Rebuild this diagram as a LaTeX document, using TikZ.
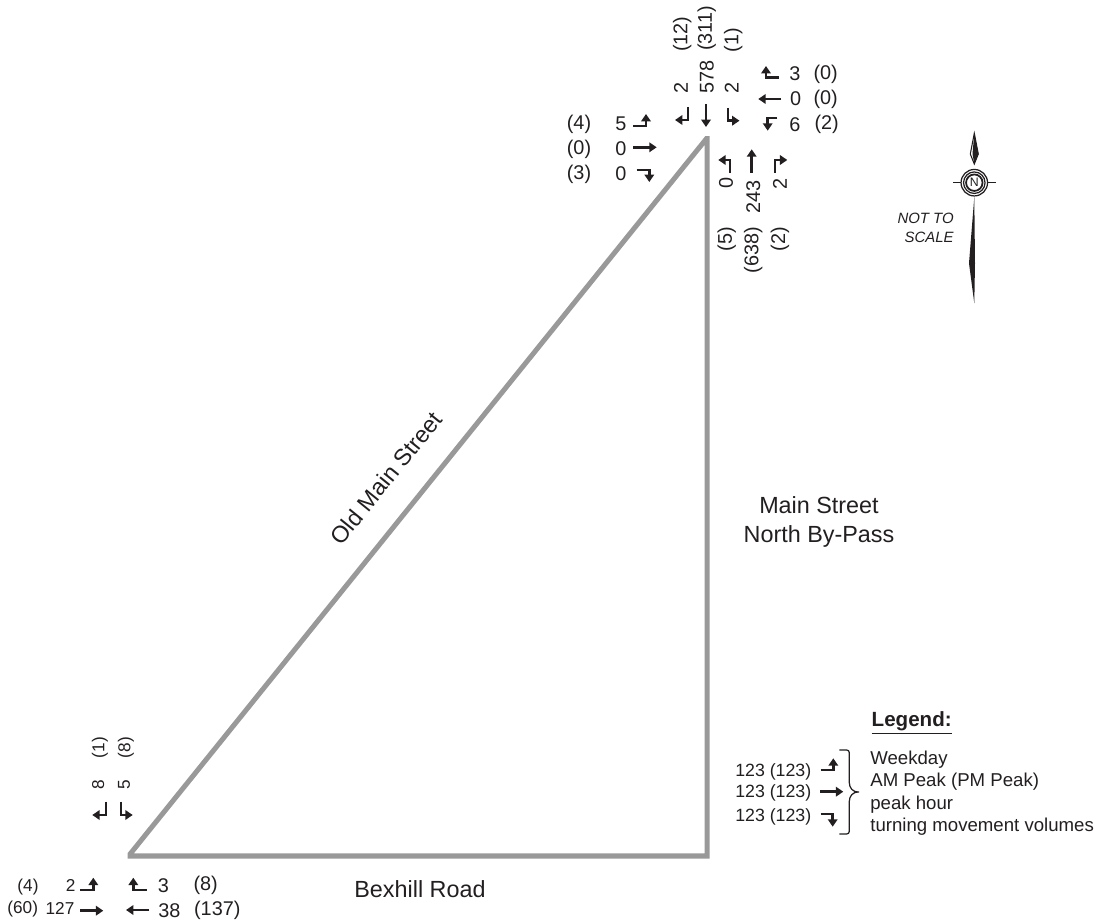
\documentclass[tikz,border=0pt]{standalone}
\usepackage{fontspec}
\setmainfont{Liberation Sans}
\usetikzlibrary{arrows.meta}
\definecolor{roadgray}{HTML}{999999}
\definecolor{inkblack}{HTML}{231F20}
\tikzset{
  road/.style={draw=roadgray,line width=2.85pt,line join=miter},
  mv/.style={draw=inkblack,line width=1.45pt,line join=miter,-{Triangle[length=4.2pt,width=5.4pt]}},
  vol/.style={inner sep=0pt,text=inkblack,font=\fontsize{11.3}{13}\selectfont},
  volsm/.style={vol,font=\fontsize{9.8}{12}\selectfont},
  rd/.style={inner sep=0pt,text=inkblack,font=\fontsize{13.3}{16.5}\selectfont},
}
\begin{document}
\begin{tikzpicture}[x=0.02cm,y=-0.02cm]
  \useasboundingbox (0,0) rectangle (1100,922);
  % roads
  \coordinate (apex) at (707,138);
  \coordinate (se) at (707,856);
  \coordinate (sw) at (128.5,856);
  \begin{scope}
    \clip (127.7,137) rectangle (720,870);
    \draw[road] (apex) -- (se) -- (sw) -- cycle;
  \end{scope}
  \node[rd,rotate=51] (oldmain) at (386,478) {Old Main Street};
  \node[rd,align=center] (bypass) at (819,522) {Main Street\\North By-Pass};
  \node[rd] (bexhill) at (420,889) {Bexhill Road};
  % main street intersection, south bound
  \draw[mv] (688,107) -- (688,120) -- (675,120);
  \draw[mv] (706,104) -- (706,127);
  \draw[mv] (728,108) -- (728,120.7) -- (739.5,120.7);
  \node[vol,rotate=90] (s1) at (681,88) {2};
  \node[vol,rotate=90] (s2) at (706.7,77) {578};
  \node[vol,rotate=90] (s3) at (731.7,88) {2};
  \node[vol,rotate=90] (sp1) at (682.3,34.3) {(12)};
  \node[vol,rotate=90] (sp2) at (706.7,28.3) {(311)};
  \node[vol,rotate=90] (sp3) at (733.3,40) {(1)};
  % west bound
  \draw[mv] (778.7,77.7) -- (766,77.7) -- (766,66);
  \draw[mv] (781,99) -- (758.3,99);
  \draw[mv] (777.3,118) -- (767.7,118) -- (767.7,130.7);
  \node[vol] (w1) at (795,74) {3};
  \node[vol] (w2) at (795.7,99) {0};
  \node[vol] (w3) at (795,124.3) {6};
  \node[vol] (wp1) at (825.7,74.7) {(0)};
  \node[vol] (wp2) at (825.7,99) {(0)};
  \node[vol] (wp3) at (826.7,124.3) {(2)};
  % east bound
  \draw[mv] (633.3,126) -- (646,126) -- (646,114);
  \draw[mv] (633.3,147.3) -- (656.7,147.3);
  \draw[mv] (636.7,170) -- (649.3,170) -- (649.3,182);
  \node[vol] (e1) at (621,123.7) {5};
  \node[vol] (e2) at (621,149) {0};
  \node[vol] (e3) at (621,174) {0};
  \node[vol] (ep1) at (579,124.3) {(4)};
  \node[vol] (ep2) at (579,149) {(0)};
  \node[vol] (ep3) at (579,174) {(3)};
  % north bound
  \draw[mv] (730,172.7) -- (730,160) -- (718.3,160);
  \draw[mv] (751.7,172.7) -- (751.7,149.3);
  \draw[mv] (775,172.7) -- (775,160) -- (787.3,160);
  \node[vol,rotate=90] (n1) at (726,182.7) {0};
  \node[vol,rotate=90] (n2) at (753.3,196.7) {243};
  \node[vol,rotate=90] (n3) at (780,184) {2};
  \node[vol,rotate=90] (np1) at (726.7,239.3) {(5)};
  \node[vol,rotate=90] (np2) at (753.3,250) {(638)};
  \node[vol,rotate=90] (np3) at (780,239.3) {(2)};
  % bexhill road intersection
  \draw[mv] (106,801.7) -- (106,815) -- (92.3,815);
  \draw[mv] (121,801.7) -- (121,815) -- (132.7,815);
  \node[volsm,rotate=90] (b1) at (98.3,785) {8};
  \node[volsm,rotate=90] (b2) at (124,785) {5};
  \node[volsm,rotate=90] (bp1) at (100,747.7) {(1)};
  \node[volsm,rotate=90] (bp2) at (126,747.7) {(8)};
  \draw[mv] (80,890) -- (93.3,890) -- (93.3,877.7);
  \draw[mv,line width=1.8pt] (80,910.7) -- (103.3,910.7);
  \draw[mv] (146.7,890) -- (133.3,890) -- (133.3,877.7);
  \draw[mv] (149.3,910) -- (126,910);
  \node[volsm] (c1) at (70.7,885.7) {2};
  \node[volsm] (cp1) at (28,886.7) {(4)};
  \node[volsm] (c2) at (60,908.7) {127};
  \node[volsm] (cp2) at (22.7,909.3) {(60)};
  \node[vol] (d1) at (163.3,885.3) {3};
  \node[vol] (dp1) at (205.7,885.3) {(8)};
  \node[vol] (d2) at (169.3,910.7) {38};
  \node[vol] (dp2) at (217.3,910.7) {(137)};
  % north arrow
  \fill[inkblack] (974.3,197) -- (969,263.3) -- (974.3,303.3) -- (975,263.3) -- cycle;
  \draw[inkblack,line width=0.6pt] (974.3,133.3) -- (970.3,154) -- (974.3,164) -- (978.3,154) -- cycle;
  \fill[inkblack] (974.3,133.3) -- (972.5,154) -- (974.3,164) -- (978.3,154) -- cycle;
  \draw[inkblack,line width=0.7pt] (953.3,182.7) -- (996,182.7);
  \node[circle,draw=inkblack,fill=white,line width=0.7pt,minimum size=0.53cm,inner sep=0pt] (ring1) at (974.3,182.7) {};
  \node[circle,draw=inkblack,line width=0.7pt,minimum size=0.43cm,inner sep=0pt] (ring2) at (974.3,182.7) {};
  \node[circle,draw=inkblack,line width=1pt,minimum size=0.33cm,inner sep=0pt,text=inkblack,font=\fontsize{7}{8}\selectfont] (ring3) at (974.3,182.7) {N};
  \node[inner sep=0pt,align=right,text=inkblack,anchor=east,font=\fontsize{8.5}{10.8}\selectfont\itshape] (scale) at (954,228) {NOT TO\\SCALE};
  % legend
  \node[inner sep=0pt,text=inkblack,font=\fontsize{11.7}{14}\selectfont\bfseries] (legend) at (911.7,723) {\underline{Legend:}};
  \draw[mv] (820.7,770) -- (833.3,770) -- (833.3,758.3);
  \draw[mv] (820,791.7) -- (843.3,791.7);
  \draw[mv] (820.7,814) -- (832.7,814) -- (832.7,826.7);
  \node[volsm,font=\fontsize{10.1}{12}\selectfont] (l1) at (773.3,771.7) {123 (123)};
  \node[volsm,font=\fontsize{10.1}{12}\selectfont] (l2) at (773.3,793.3) {123 (123)};
  \node[volsm,font=\fontsize{10.1}{12}\selectfont] (l3) at (773.3,816.7) {123 (123)};
  \draw[inkblack,line width=0.7pt,rounded corners=1.5pt] (839.3,750) -- (849.3,750) -- (849.3,780) .. controls (849.3,788) and (853,792) .. (860.7,792) .. controls (853,792) and (849.3,796) .. (849.3,804) -- (849.3,834) -- (839.3,834);
  \node[inner sep=0pt,text=inkblack,anchor=west,align=left,font=\fontsize{10.6}{12.75}\selectfont] (legtext) at (870,793) {Weekday\\AM Peak (PM Peak)\\peak hour\\turning movement volumes};
\end{tikzpicture}
\end{document}
